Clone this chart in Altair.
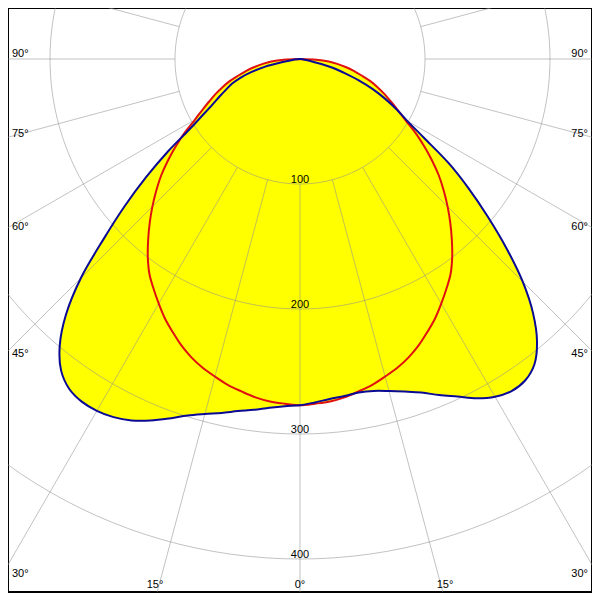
import math
import altair as alt
import pandas as pd

# ---------------- data ----------------
# polar angle gamma measured from the nadir (degrees)
gamma = [0, 2.5, 5, 7.5, 10, 12.5, 15, 17.5, 20, 22.5, 25, 27.5, 30, 32.5, 35,
         37.5, 40, 42.5, 45, 47.5, 50, 52.5, 55, 57.5, 60, 62.5, 65, 67.5, 70,
         72.5, 75, 77.5, 80, 82.5, 85, 87.5, 90]

# C0-C180 plane (blue), left and right halves, cd
blue_left = [277, 278, 280, 283, 286, 290, 294, 299, 306, 313, 319, 323, 325, 325,
             322, 314, 299, 277, 248, 213, 183, 155, 129, 105, 90, 79, 71, 64, 58,
             50, 40, 29, 14, 6, 2, 1, 0]
blue_right = [277, 275, 273, 272, 271, 272, 275, 279, 284, 291, 298, 306, 312, 315,
              314, 308, 295, 276, 252, 224, 196, 170, 145, 118, 99, 87, 75, 63, 50,
              37, 27, 12, 5, 2, 1, 0, 0]

# C90-C270 plane (red), left and right halves, cd
red_left = [277, 276, 275, 273, 270, 267, 263, 259, 254, 248, 241, 234, 226, 218,
            210, 200, 189, 178, 167, 156, 145, 133, 121, 109, 97, 88, 80, 73, 66,
            59, 51, 44, 37, 30, 23, 13, 0]
red_right = [277, 276, 275, 273, 270, 267, 263, 259, 254, 248, 241, 234, 226, 218,
             210, 200, 189, 178, 167, 156, 145, 133, 121, 109, 97, 88, 80, 73, 66,
             59, 51, 44, 37, 30, 23, 13, 0]

ring_values = [100, 200, 300, 400, 500]
ring_label_values = [100, 200, 300, 400]
spoke_angles = [-105, -90, -75, -60, -45, -30, -15, 0, 15, 30, 45, 60, 75, 90, 105]
angle_label_values = [90, 75, 60, 45, 30, 15, 0]

# ---------------- geometry of the frame ----------------
PX = 1.25            # pixels per cd
CX, CY = 300.0, 59.0  # pole position in the 600x600 frame
x_dom = [(8 - CX) / PX, (592 - CX) / PX]
y_dom = [(CY - 592) / PX, (CY - 8) / PX]
FRAME_W = CX / PX              # half width of the frame, cd
FRAME_B = -(600 - CY) / PX     # bottom of the frame, cd
LABEL_X = (300 - 12) / PX      # side labels inset
LABEL_B = (CY - 588) / PX      # baseline of bottom labels

xs = alt.Scale(domain=x_dom, nice=False, zero=False)
ys = alt.Scale(domain=y_dom, nice=False, zero=False)

# ---------------- tables ----------------
rows = []
for name, left, right in [("C0-C180", blue_left, blue_right),
                          ("C90-C270", red_left, red_right)]:
    k = 0
    for g, v in zip(reversed(gamma), reversed(left)):
        rows.append({"curve": name, "idx": k, "ang": -g, "I": v})
        k += 1
    for g, v in zip(gamma[1:], right[1:]):
        rows.append({"curve": name, "idx": k, "ang": g, "I": v})
        k += 1
curves = pd.DataFrame(rows)

circ_rows = []
for r in ring_values:
    for t in range(0, 361, 2):
        circ_rows.append({"ring": r, "t": t})
circles = pd.DataFrame(circ_rows)

spokes = pd.DataFrame({"ang": spoke_angles})
ring_labels = pd.DataFrame({"ring": ring_label_values,
                            "txt": [str(v) for v in ring_label_values]})

lab_rows = []
for g in angle_label_values:
    sides = [0] if g == 0 else [-1, 1]
    for s in sides:
        txt = f"{g}\u00b0"
        if g == 0:
            lab_rows.append({"txt": txt, "x": 0.0, "y": LABEL_B, "pos": "bottom"})
            continue
        y_line = -FRAME_W / math.tan(math.radians(g)) if g != 90 else 0.0
        if abs(y_line) <= abs(FRAME_B):
            lab_rows.append({"txt": txt, "x": s * LABEL_X, "y": y_line,
                             "pos": "left" if s < 0 else "right"})
        else:
            lab_rows.append({"txt": txt,
                             "x": s * abs(FRAME_B) * math.tan(math.radians(g)),
                             "y": LABEL_B, "pos": "bottom"})
ang_labels = pd.DataFrame(lab_rows)

# ---------------- layers ----------------
X = lambda f: alt.X(f, scale=xs, axis=None)
Y = lambda f: alt.Y(f, scale=ys, axis=None)

curve_base = alt.Chart(curves).transform_calculate(
    px="datum.I * sin(datum.ang * PI / 180)",
    py="-datum.I * cos(datum.ang * PI / 180)",
)

fill = curve_base.mark_line(fill="#ffff00", stroke="#ffff00", strokeWidth=0.5,
                            interpolate="catmull-rom", clip=True).encode(
    x=X("px:Q"), y=Y("py:Q"), detail="curve:N", order="idx:Q")

grid_circles = alt.Chart(circles).transform_calculate(
    px="datum.ring * sin(datum.t * PI / 180)",
    py="-datum.ring * cos(datum.t * PI / 180)",
).mark_line(stroke="#909090", strokeWidth=1, opacity=0.55, clip=True).encode(
    x=X("px:Q"), y=Y("py:Q"), detail="ring:N", order="t:Q")

grid_spokes = alt.Chart(spokes).transform_calculate(
    x1="100 * sin(datum.ang * PI / 180)",
    y1="-100 * cos(datum.ang * PI / 180)",
    x2="800 * sin(datum.ang * PI / 180)",
    y2="-800 * cos(datum.ang * PI / 180)",
).mark_rule(stroke="#909090", strokeWidth=1, opacity=0.55, clip=True).encode(
    x=X("x1:Q"), y=Y("y1:Q"), x2="x2:Q", y2="y2:Q")

red_line = curve_base.transform_filter("datum.curve == 'C90-C270'").mark_line(
    stroke="#e01010", strokeWidth=2, interpolate="catmull-rom", clip=True).encode(
    x=X("px:Q"), y=Y("py:Q"), order="idx:Q")

blue_line = curve_base.transform_filter("datum.curve == 'C0-C180'").mark_line(
    stroke="#0a0a96", strokeWidth=2, interpolate="catmull-rom", clip=True).encode(
    x=X("px:Q"), y=Y("py:Q"), order="idx:Q")

FONT = "Liberation Sans"
ring_text = alt.Chart(ring_labels).transform_calculate(
    px="0", py="-datum.ring").mark_text(
    font=FONT, fontSize=11, fill="#000000", baseline="alphabetic", align="center",
    dy=-1).encode(x=X("px:Q"), y=Y("py:Q"), text="txt:N")

def ang_layer(pos, align, dy):
    return alt.Chart(ang_labels).transform_filter(f"datum.pos == '{pos}'").mark_text(
        font=FONT, fontSize=11, fill="#000000", baseline="alphabetic", align=align,
        dy=dy).encode(x=X("x:Q"), y=Y("y:Q"), text="txt:N")

chart = alt.layer(
    fill, grid_circles, grid_spokes, red_line, blue_line, ring_text,
    ang_layer("left", "left", -2), ang_layer("right", "right", -2),
    ang_layer("bottom", "center", 0),
).properties(
    width=584, height=584,
    padding={"left": 0, "top": 0, "right": 0, "bottom": 8},
    autosize="none",
).configure_view(stroke="black", strokeWidth=2)

chart.save("out.html", embed_options={"renderer": "svg", "actions": False})
